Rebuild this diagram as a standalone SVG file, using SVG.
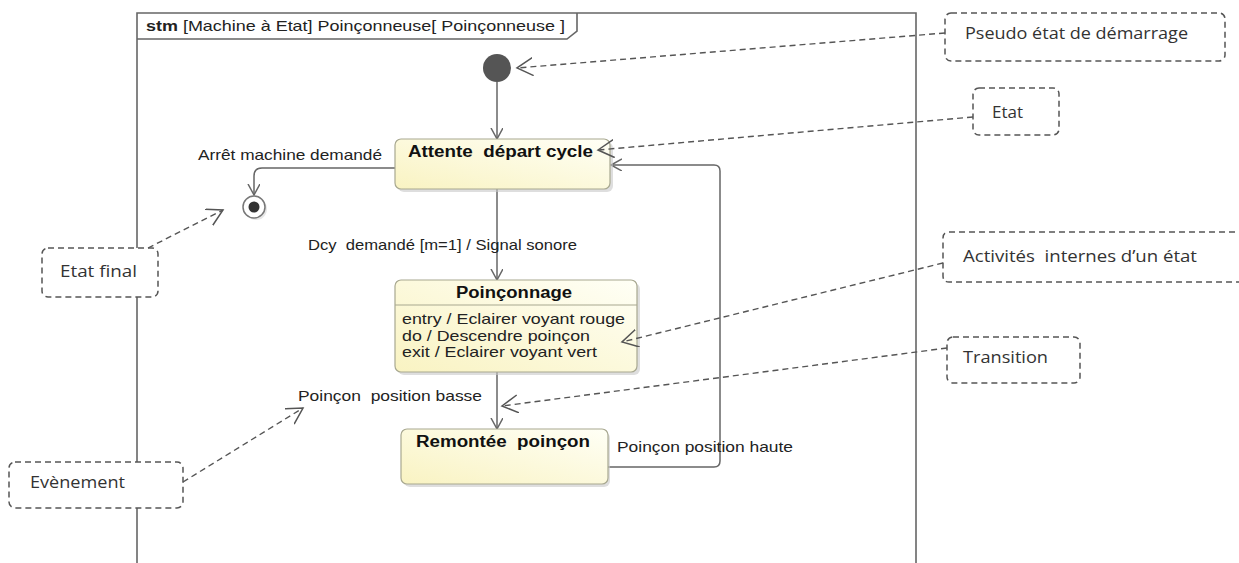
<svg xmlns="http://www.w3.org/2000/svg" width="1239" height="563" viewBox="0 0 1239 563">
<style>
.frame{fill:none;stroke:#666;stroke-width:1.6}
.st{stroke:#a8a890;stroke-width:1.2}
.sh{fill:#c8c8c8;opacity:0.6}
.con{fill:none;stroke:#666;stroke-width:1.5}
.note{fill:#fff;stroke:#555;stroke-width:1.5;stroke-dasharray:6 4}
.dash{fill:none;stroke:#555;stroke-width:1.4;stroke-dasharray:6 4}
.lbl{font-family:"Liberation Sans",Arial,sans-serif;font-size:15px;fill:#222}
.ttl{font-family:"Liberation Sans",Arial,sans-serif;font-size:16px;font-weight:bold;fill:#111}
.nt{font-family:"Open Sans","Liberation Sans",sans-serif;font-size:16px;fill:#333}
</style>
<defs>
<linearGradient id="g" x1="0" y1="1" x2="1" y2="0">
<stop offset="0" stop-color="#f9f3c2"/>
<stop offset="1" stop-color="#fffff6"/>
</linearGradient>
<marker id="a" markerUnits="userSpaceOnUse" markerWidth="14" markerHeight="14" refX="11" refY="6" orient="auto">
<path d="M0,0 L11,6 L0,12" fill="none" stroke="#666" stroke-width="1.5"/>
</marker>
<marker id="d" markerUnits="userSpaceOnUse" markerWidth="20" markerHeight="20" refX="16" refY="9" orient="auto">
<path d="M0,0 L16,9 L0,18" fill="none" stroke="#555" stroke-width="1.5"/>
</marker>
</defs>
<rect width="1239" height="563" fill="#fff"/>

<g id="frame">
<path class="frame" d="M137,565 V13 H916 V565"/>
<path class="frame" d="M137,39 H567 L577,31 V13"/>
<text class="lbl" x="146" y="31" font-size="14.5" textLength="419" lengthAdjust="spacingAndGlyphs" xml:space="preserve"><tspan font-weight="bold">stm</tspan> [Machine à Etat] Poinçonneuse[ Poinçonneuse ]</text>
</g>

<g id="connectors">
<path class="con" d="M497,82 V139" marker-end="url(#a)"/>
<path class="con" d="M395,168 H262 Q254,168 254,176 V195" marker-end="url(#a)"/>
<path class="con" d="M497,189 V280" marker-end="url(#a)"/>
<path class="con" d="M497,372 V429" marker-end="url(#a)"/>
<path class="con" d="M608,467 H714 Q720,467 720,461 V171 Q720,165 714,165 H611" marker-end="url(#a)"/>
<text class="lbl" x="198" y="160" textLength="184" lengthAdjust="spacingAndGlyphs">Arrêt machine demandé</text>
<text class="lbl" x="308" y="250" textLength="269" lengthAdjust="spacingAndGlyphs" xml:space="preserve">Dcy  demandé [m=1] / Signal sonore</text>
<text class="lbl" x="298" y="401" textLength="184" lengthAdjust="spacingAndGlyphs" xml:space="preserve">Poinçon  position basse</text>
<text class="lbl" x="617" y="452" textLength="176" lengthAdjust="spacingAndGlyphs">Poinçon position haute</text>
</g>

<g id="initial">
<circle cx="497" cy="68" r="14" fill="#555"/>
</g>

<g id="final">
<circle cx="256" cy="209" r="11" fill="#d0d0d0" opacity="0.5"/>
<circle cx="254" cy="207" r="11" fill="#fff" stroke="#777" stroke-width="1.5"/>
<circle cx="254" cy="207" r="5.5" fill="#333"/>
</g>

<g id="attente">
<rect class="sh" x="398" y="142" width="215" height="50" rx="6"/>
<rect class="st" x="395" y="139" width="215" height="50" rx="6" fill="url(#g)"/>
<text class="ttl" x="408" y="157" textLength="185" lengthAdjust="spacingAndGlyphs" xml:space="preserve">Attente  départ cycle</text>
</g>

<g id="poinconnage">
<rect class="sh" x="398" y="283" width="242" height="92" rx="6"/>
<rect class="st" x="395" y="280" width="242" height="92" rx="6" fill="url(#g)"/>
<line x1="395" y1="305" x2="637" y2="305" stroke="#a8a890" stroke-width="1.2"/>
<text class="ttl" x="456" y="298" textLength="116" lengthAdjust="spacingAndGlyphs">Poinçonnage</text>
<text class="lbl" x="402" y="324" textLength="223" lengthAdjust="spacingAndGlyphs">entry / Eclairer voyant rouge</text>
<text class="lbl" x="402" y="341" textLength="188" lengthAdjust="spacingAndGlyphs">do / Descendre poinçon</text>
<text class="lbl" x="402" y="357" textLength="195" lengthAdjust="spacingAndGlyphs">exit / Eclairer voyant vert</text>
</g>

<g id="remontee">
<rect class="sh" x="404" y="432" width="206" height="55" rx="6"/>
<rect class="st" x="401" y="429" width="207" height="55" rx="6" fill="url(#g)"/>
<text class="ttl" x="416" y="447" textLength="174" lengthAdjust="spacingAndGlyphs" xml:space="preserve">Remontée  poinçon</text>
</g>

<g id="note-pseudo">
<rect class="note" x="945" y="13" width="280" height="48" rx="6"/>
<text class="nt" x="965" y="39" textLength="223" lengthAdjust="spacingAndGlyphs">Pseudo état de démarrage</text>
<path class="dash" d="M945,33 L517,68" marker-end="url(#d)"/>
</g>

<g id="note-etat">
<rect class="note" x="973" y="88" width="86" height="47" rx="6"/>
<text class="nt" x="992" y="118" textLength="31" lengthAdjust="spacingAndGlyphs">Etat</text>
<path class="dash" d="M973,117 L598,150" marker-end="url(#d)"/>
</g>

<g id="note-activites">
<path class="note" d="M1245,232 H949 Q943,232 943,238 V276 Q943,282 949,282 H1245"/>
<text class="nt" x="963" y="262" textLength="234" lengthAdjust="spacingAndGlyphs" xml:space="preserve">Activités  internes d’un état</text>
<path class="dash" d="M943,263 L622,342" marker-end="url(#d)"/>
</g>

<g id="note-transition">
<rect class="note" x="947" y="337" width="133" height="46" rx="6"/>
<text class="nt" x="963" y="363" textLength="85" lengthAdjust="spacingAndGlyphs">Transition</text>
<path class="dash" d="M947,348 L502,406" marker-end="url(#d)"/>
</g>

<g id="note-final">
<rect class="note" x="42" y="248" width="116" height="49" rx="6"/>
<text class="nt" x="60" y="277" textLength="77" lengthAdjust="spacingAndGlyphs">Etat final</text>
<path class="dash" d="M148,248 L223,210" marker-end="url(#d)"/>
</g>

<g id="note-evenement">
<rect class="note" x="9" y="462" width="174" height="46" rx="6"/>
<text class="nt" x="30" y="488" textLength="95" lengthAdjust="spacingAndGlyphs">Evènement</text>
<path class="dash" d="M183,482 L303,408" marker-end="url(#d)"/>
</g>
</svg>
